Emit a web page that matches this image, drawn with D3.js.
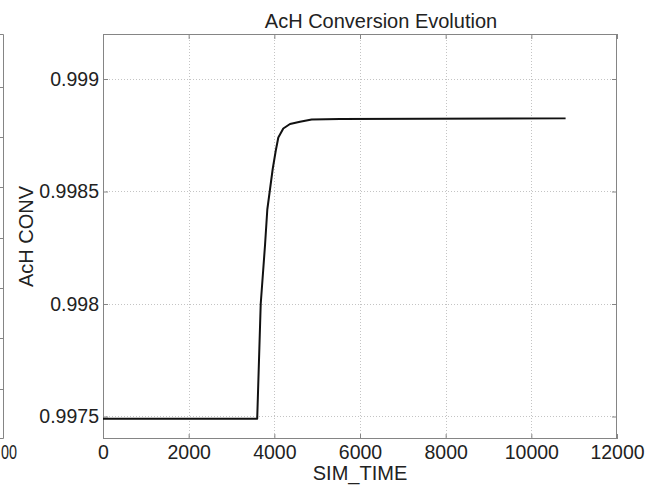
<!DOCTYPE html>
<html>
<head>
<meta charset="utf-8">
<script src="https://cdn.jsdelivr.net/npm/d3@7"></script>
<style>
  html, body { margin: 0; padding: 0; background: #fff; }
  svg { display: block; font-family: "Liberation Sans", Arial, Helvetica, sans-serif; }
</style>
</head>
<body>
<svg id="chart" width="654" height="486"></svg>
<script>
// AcH conversion over simulation time
const simTime = [0, 3600, 3682, 3782, 3836, 3899, 3962, 4032, 4093, 4209, 4366, 4599, 4872, 5533, 10800];
const achConv = [0.99749, 0.99749, 0.99800, 0.99826, 0.99842, 0.99851, 0.99860, 0.99868, 0.99874, 0.99878, 0.99880, 0.99881, 0.99882, 0.998822, 0.998825];

const xTicks = [0, 2000, 4000, 6000, 8000, 10000, 12000];
const xTickLabels = ["0", "2000", "4000", "6000", "8000", "10000", "12000"];
const yTicks = [0.9975, 0.998, 0.9985, 0.999];
const yTickLabels = ["0.9975", "0.998", "0.9985", "0.999"];

const titleText = "AcH Conversion Evolution";
const xLabelText = "SIM_TIME";
const yLabelText = "AcH CONV";

// neighbouring panel (only its right edge is in view)
const sideTicks = [1, 2, 3, 4, 5, 6, 7];
const sideXLabel = "00";

const svg = d3.select("#chart");
const L = 103, R = 617, T = 34, B = 439;
const boxColor = "#858585";
const textColor = "#222";
const tickFont = "19.5px";

const x = d3.scaleLinear().domain([0, 12000]).range([L, R]);
const y = d3.scaleLinear().domain([0.9974, 0.9992]).range([B, T]);

// dotted grid
const grid = svg.append("g").attr("stroke", "#c4c4c4").attr("stroke-width", 1).attr("stroke-dasharray", "1,2");
grid.selectAll("line.gx").data(xTicks.filter(d => d > 0 && d < 12000)).enter().append("line")
  .attr("x1", d => Math.round(x(d)) + 0.5).attr("x2", d => Math.round(x(d)) + 0.5)
  .attr("y1", T).attr("y2", B);
grid.selectAll("line.gy").data(yTicks).enter().append("line")
  .attr("y1", d => Math.round(y(d)) + 0.5).attr("y2", d => Math.round(y(d)) + 0.5)
  .attr("x1", L).attr("x2", R);

// axes with inward ticks
function styleAxis(g) {
  g.select(".domain").remove();
  g.selectAll(".tick line").attr("stroke", boxColor);
  g.selectAll(".tick text").attr("fill", textColor).style("font-size", tickFont);
}
svg.append("g").attr("transform", `translate(0,${B})`)
  .call(d3.axisBottom(x).tickValues(xTicks).tickFormat((d, i) => xTickLabels[i]).tickSize(-5).tickPadding(6.5))
  .call(styleAxis);
svg.append("g").attr("transform", `translate(0,${T})`)
  .call(d3.axisTop(x).tickValues(xTicks).tickFormat("").tickSize(-5))
  .call(styleAxis);
svg.append("g").attr("transform", `translate(${L},0)`)
  .call(d3.axisLeft(y).tickValues(yTicks).tickFormat((d, i) => yTickLabels[i]).tickSize(-5).tickPadding(4))
  .call(styleAxis);
svg.append("g").attr("transform", `translate(${R},0)`)
  .call(d3.axisRight(y).tickValues(yTicks).tickFormat("").tickSize(-5))
  .call(styleAxis);

// plot box
svg.append("rect").attr("x", L + 0.5).attr("y", T + 0.5).attr("width", R - L - 1).attr("height", B - T - 1)
  .attr("fill", "none").attr("stroke", boxColor).attr("stroke-width", 1);

// data line
const line = d3.line().x((d, i) => x(simTime[i])).y(d => y(d));
svg.append("path").datum(achConv).attr("d", line)
  .attr("fill", "none").attr("stroke", "#111").attr("stroke-width", 2).attr("stroke-linejoin", "round");

// titles
svg.append("text").attr("x", 381).attr("y", 28).attr("text-anchor", "middle")
  .attr("fill", textColor).style("font-size", "20px").text(titleText);
svg.append("text").attr("x", (L + R) / 2).attr("y", 480).attr("text-anchor", "middle")
  .attr("fill", textColor).style("font-size", "20px").text(xLabelText);
svg.append("text").attr("transform", `translate(33,${(T + B) / 2}) rotate(-90)`).attr("text-anchor", "middle")
  .attr("fill", textColor).style("font-size", "20px").text(yLabelText);

// right edge of the neighbouring panel
const sideX = 3.5;
const sideY = d3.scaleLinear().domain([0, 8.05]).range([B, T]);
const side = svg.append("g");
side.append("path").attr("d", `M0,${T + 0.5}H${sideX}V${B - 0.5}H0`)
  .attr("fill", "none").attr("stroke", boxColor);
side.selectAll("line.st").data(sideTicks).enter().append("line")
  .attr("x1", 0).attr("x2", sideX)
  .attr("y1", d => Math.round(sideY(d)) + 0.5).attr("y2", d => Math.round(sideY(d)) + 0.5)
  .attr("stroke", boxColor);
side.append("text").attr("x", 1).attr("y", 459)
  .attr("textLength", 16).attr("lengthAdjust", "spacingAndGlyphs")
  .attr("fill", textColor).style("font-size", tickFont).text(sideXLabel);
</script>
</body>
</html>
